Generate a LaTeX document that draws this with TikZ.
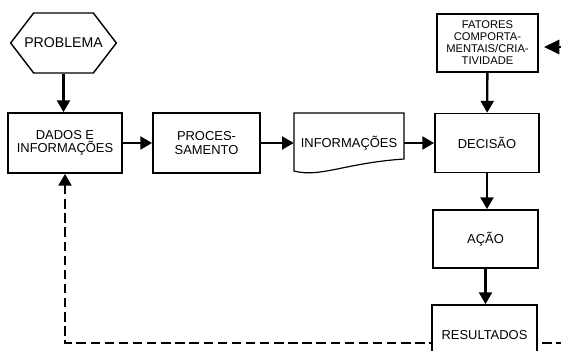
\documentclass[tikz,border=0pt]{standalone}
\usepackage{fontspec}
\setmainfont{Liberation Sans}
\usetikzlibrary{arrows.meta,shapes.symbols,backgrounds}

\tikzset{
  box/.style={draw,line width=1.5pt,align=center,inner sep=2pt,
    font=\fontsize{11}{11.5}\selectfont},
  arr/.style={line width=2pt,-{Triangle[length=10pt,width=11pt]}},
  fb/.style={line width=2pt,dash pattern=on 8pt off 4pt,
    -{Triangle[length=10pt,width=11pt]}},
}

\begin{document}
\begin{tikzpicture}[x=0.85pt,y=-0.85pt]
  \path[use as bounding box,clip] (0,0) rectangle (561,350);
  % nodes
  \node[box,signal,signal to=east and west,signal pointer angle=105,
    line width=1.2pt,minimum height=51pt,inner xsep=-8pt,
    font=\fontsize{12}{12}\selectfont] (prob) at (63.5,43) {PROBLEMA};
  \node[box,minimum width=97pt,minimum height=51pt] (dados) at (65,143)
    {DADOS E\\INFORMAÇÕES};
  \node[box,minimum width=91pt,minimum height=51pt] (proc) at (206.5,143)
    {PROCES-\\SAMENTO};
  \node[align=center,minimum width=93.5pt,minimum height=50pt,
    font=\fontsize{11}{11.5}\selectfont] (info) at (349,143) {INFORMAÇÕES};
  \draw[line width=1pt] (294,113) -- (404,113) -- (404,159)
    .. controls (345,163) and (320,178) .. (294,171) -- cycle;
  \node[box,minimum width=88.4pt,minimum height=50pt] (dec) at (487,143)
    {DECISÃO};
  \node[box,line width=2pt,minimum width=86pt,minimum height=49.3pt,
    font=\fontsize{9.5}{10.2}\selectfont] (fat) at (487.5,43)
    {FATORES\\COMPORTA-\\MENTAIS/CRIA-\\TIVIDADE};
  \node[box,minimum width=89pt,minimum height=49.3pt] (acao) at (485.5,239)
    {AÇÃO};
  \node[box,fill=white,minimum width=89pt,minimum height=51pt] (res)
    at (484.5,335) {RESULTADOS};
  \coordinate (extin) at (580,47);
  \coordinate (extout) at (580,343);
  % connectors
  \draw[arr] (prob.south) -- (prob.south |- dados.north);
  \draw[arr] (dados) -- (proc);
  \draw[arr] (proc) -- (info);
  \draw[arr] (info) -- (dec);
  \draw[arr] (fat) -- (dec);
  \draw[arr] (dec.south) -- (dec.south |- acao.north);
  \draw[arr] (acao.south) -- (acao.south |- res.north);
  \draw[arr,shorten >=4pt,-{Triangle[length=13pt,width=12pt]}]
    (extin) -- (extin -| fat.east);
  \begin{scope}[on background layer]
    \draw[fb] (extout) -| (dados.south);
  \end{scope}
\end{tikzpicture}
\end{document}
